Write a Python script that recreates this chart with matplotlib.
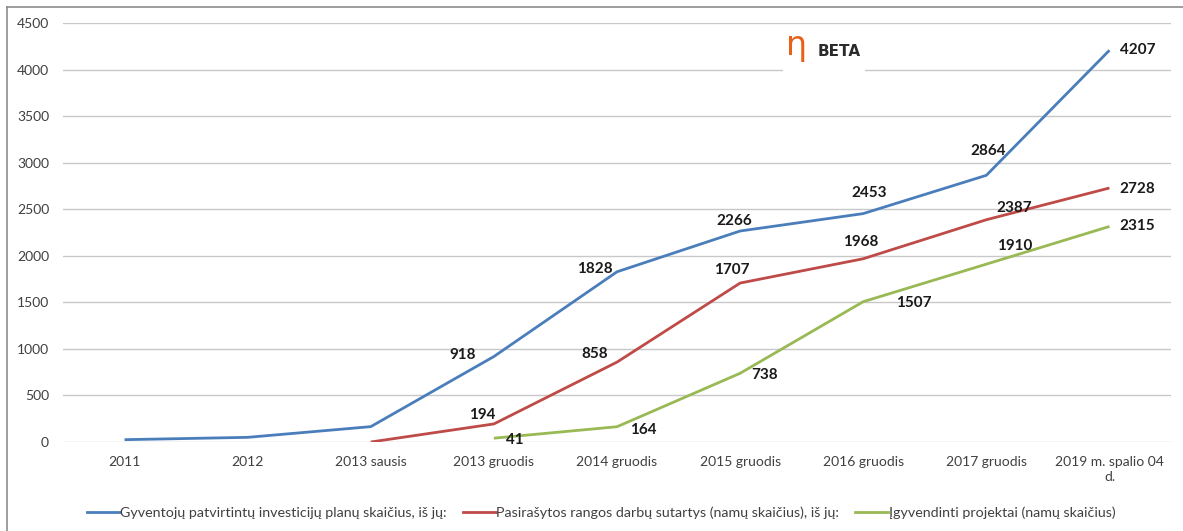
import numpy as np
import matplotlib
matplotlib.use("Agg")
import matplotlib.pyplot as plt
from matplotlib.lines import Line2D
from matplotlib.patches import Rectangle

categories = ["2011", "2012", "2013 sausis", "2013 gruodis", "2014 gruodis",
              "2015 gruodis", "2016 gruodis", "2017 gruodis", "2019 m. spalio 04\nd."]
plans = [25, 50, 165, 918, 1828, 2266, 2453, 2864, 4207]
contracts = [np.nan, np.nan, 0, 194, 858, 1707, 1968, 2387, 2728]
completed = [np.nan, np.nan, np.nan, 41, 164, 738, 1507, 1910, 2315]
series_names = ["Gyventojų patvirtintų investicijų planų skaičius, iš jų:",
                "Pasirašytos rangos darbų sutartys (namų skaičius), iš jų:",
                "Įgyvendinti projektai (namų skaičius)"]
yticks = [0, 500, 1000, 1500, 2000, 2500, 3000, 3500, 4000, 4500]

# label offsets in pixels (dx, dy) relative to the point; None = no label
offsets = [
    [None, None, None, (-31, 2), (-22, 3), (-6, 10), (6, 21), (2, 24), (28, 0)],
    [None, None, None, (-12, 9), (-22, 8), (-8, 13), (-2, 17), (28, 12), (28, -1)],
    [None, None, None, (21, -2), (26, -3), (24, -2), (51, -1), (28, 18), (28, 0)],
]

colors = ["#4A7EBB", "#BE4B48", "#98B954"]

plt.rcParams['font.family'] = ['Lato', 'DejaVu Sans']

W, H = 1183, 531
fig = plt.figure(figsize=(W / 100, H / 100), dpi=100)
ax = fig.add_axes([63 / W, 89 / H, (1171 - 63) / W, (508 - 89) / H])

x = np.arange(len(categories))
all_series = [plans, contracts, completed]
for s, (vals, c) in enumerate(zip(all_series, colors)):
    ax.plot(x, vals, color=c, lw=2.0, solid_capstyle='butt', zorder=3)
    for i, v in enumerate(vals):
        if offsets[s][i] is None or np.isnan(v):
            continue
        dx, dy = offsets[s][i]
        ax.annotate(str(int(v)), (x[i], v), xytext=(dx * 0.72, dy * 0.72),
                    textcoords='offset points', ha='center', va='center',
                    fontsize=11, fontweight='bold', color='#1a1a1a', zorder=4)

ax.set_xlim(-0.5, len(categories) - 0.5)
ax.set_ylim(0, 4500)
ax.set_yticks(yticks)
ax.set_xticks(x)
ax.set_xticklabels(categories, fontsize=10, color='#404040', linespacing=1.32)
ax.tick_params(axis='y', labelsize=10, labelcolor='#404040', length=0, pad=10)
ax.tick_params(axis='x', length=0, pad=10)
ax.grid(axis='y', color='#C8C8C8', lw=1.0, zorder=0)
for sp in ax.spines.values():
    sp.set_visible(False)

# logo with white box behind it
ax.add_patch(Rectangle(((783 - 63) / (1171 - 63), (442 - 72) / (442 - 23)),
                       (865 - 783) / (1171 - 63), 45 / (442 - 23),
                       transform=ax.transAxes, fc='white', ec='none', zorder=2))
ax.text((786 - 63) / 1108, (442 - 46) / 419, "η", transform=ax.transAxes, fontsize=24,
        color='#E8611A', ha='left', va='center', family=['DejaVu Sans'], zorder=5)
ax.text((818 - 63) / 1108, (442 - 51) / 419, "BETA", transform=ax.transAxes, fontsize=11,
        color='#2b2b2b', fontweight='bold', ha='left', va='center',
        family=['DejaVu Sans'], zorder=6)

# legend
handles = [Line2D([0], [0], color=c, lw=2.0) for c in colors]
fig.legend(handles, series_names, loc='center', bbox_to_anchor=(601 / W, (531 - 513) / H),
           ncol=3, frameon=False, fontsize=10.3, handlelength=2.3, handletextpad=0.05,
           columnspacing=1.1, labelcolor='#404040')

# outer frame (top and left)
fig.add_artist(Line2D([7 / W, 1], [1 - 7 / H, 1 - 7 / H], color='#8C8C8C', lw=1.2,
                      transform=fig.transFigure))
fig.add_artist(Line2D([7 / W, 7 / W], [0, 1 - 7 / H], color='#8C8C8C', lw=1.2,
                      transform=fig.transFigure))

fig.savefig("out.png", dpi=100, facecolor='white')
